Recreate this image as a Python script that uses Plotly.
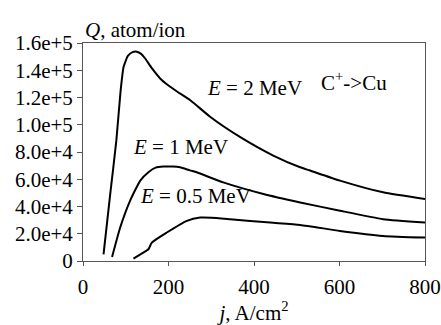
import plotly.graph_objects as go

# Data
j_2mev = [48, 64, 78, 88, 95, 105, 116, 126, 136, 145, 161, 181, 200, 220, 251, 298, 368, 445, 508, 531, 601, 702, 800]
q_2mev = [4900, 50000, 88500, 125000, 142500, 150500, 153300, 153600, 152000, 148800, 141500, 133800, 128800,
          124400, 118000, 105700, 90900, 77400, 68800, 66400, 59000, 50400, 45500]

j_1mev = [68, 87, 110, 134, 153, 170, 188, 210, 227, 250, 266, 328, 422, 508, 601, 702, 800]
q_1mev = [2950, 24600, 44200, 59000, 65100, 68500, 69300, 69300, 68800, 66500, 65100, 57700, 49200,
          43000, 36900, 30700, 28200]

j_05mev = [118, 140, 153, 161, 196, 243, 274, 300, 344, 438, 508, 601, 702, 800]
q_05mev = [1700, 6000, 8600, 13500, 20900, 29500, 31900, 31800, 30700, 28200, 26500, 22100, 18400, 17200]

x_ticks = [0, 200, 400, 600, 800]
y_tickvals = [0, 20000, 40000, 60000, 80000, 100000, 120000, 140000, 160000]
y_ticktext = ["0", "2.0e+4", "4.0e+4", "6.0e+4", "8.0e+4", "1.0e+5", "1.2e+5", "1.4e+5", "1.6e+5"]

FONT = "Liberation Serif"
FS = 21

fig = go.Figure()
for xs, ys in [(j_2mev, q_2mev), (j_1mev, q_1mev), (j_05mev, q_05mev)]:
    fig.add_trace(go.Scatter(x=xs, y=ys, mode="lines",
                             line=dict(color="black", width=2, shape="spline", smoothing=0.5),
                             showlegend=False, hoverinfo="skip"))

ann_font = dict(family=FONT, size=FS, color="black")
annotations = [
    dict(x=400, y=127000, text="<i>E</i> = 2 MeV", showarrow=False, font=ann_font),
    dict(x=635, y=131500, text="C<sup>+</sup>->Cu", showarrow=False, font=ann_font),
    dict(x=228, y=84000, text="<i>E</i> = 1 MeV", showarrow=False, font=ann_font),
    dict(x=264, y=48000, text="<i>E</i> = 0.5 MeV", showarrow=False, font=ann_font),
    dict(x=0, y=1.0, xref="paper", yref="paper", xanchor="left", yanchor="bottom", yshift=-1,
         text="<i>Q</i>, atom/ion", showarrow=False, font=ann_font),
]

fig.update_layout(
    width=441, height=325,
    margin=dict(l=83, r=16, t=43, b=64),
    paper_bgcolor="white", plot_bgcolor="white",
    font=dict(family=FONT, size=FS, color="black"),
    annotations=annotations,
    xaxis=dict(range=[0, 800], tickvals=x_ticks, showgrid=False, zeroline=False, automargin=False,
               showline=True, linecolor="#555", linewidth=1, mirror=True,
               ticks="outside", ticklen=4, tickcolor="#555", ticklabelstandoff=3,
               tickfont=dict(family=FONT, size=FS, color="black"),
               title=dict(text="<i>j</i>, A/cm<sup>2</sup>", standoff=9,
                          font=dict(family=FONT, size=FS, color="black"))),
    yaxis=dict(range=[0, 160000], tickvals=y_tickvals, ticktext=y_ticktext, showgrid=False,
               zeroline=False, showline=True, linecolor="#555", linewidth=1, mirror=True,
               automargin=False, ticks="outside", ticklen=5, tickcolor="#555",
               tickfont=dict(family=FONT, size=FS, color="black")),
)

fig.write_html("out.html")
